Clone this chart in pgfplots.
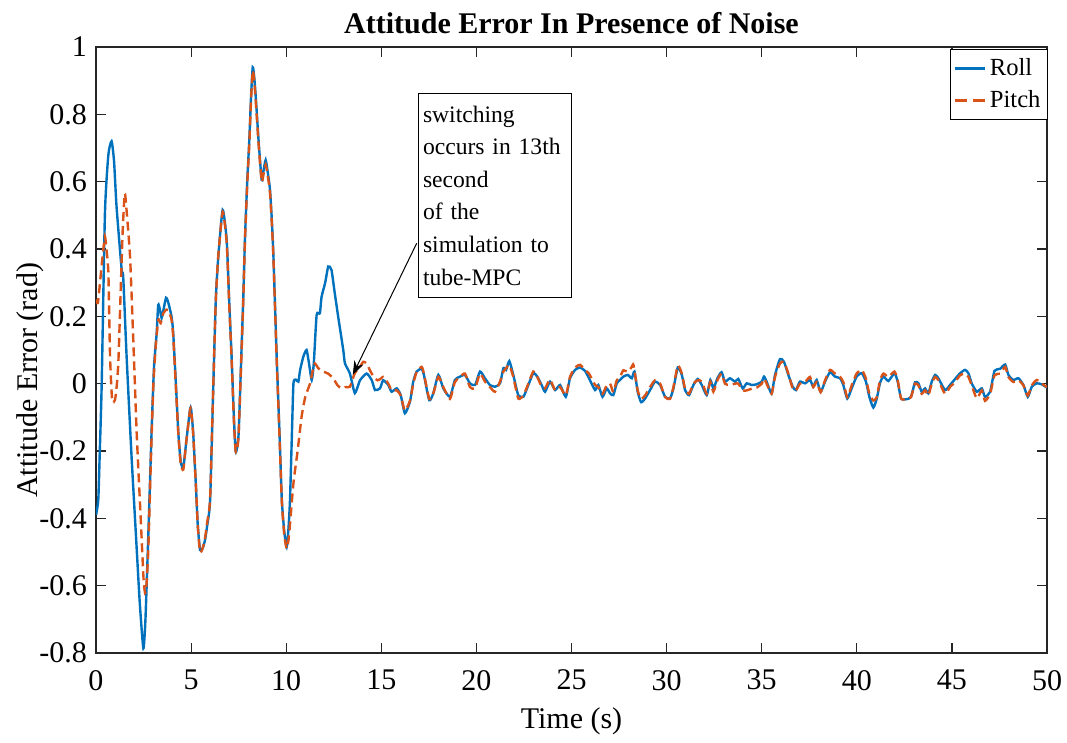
\documentclass[border=0pt]{standalone}
\usepackage{pgfplots}
\pgfplotsset{compat=1.18}
\usepackage{fontspec}
\setmainfont{Liberation Serif}
\usetikzlibrary{arrows.meta}
\definecolor{mblue}{rgb}{0,0.447,0.741}
\definecolor{morange}{rgb}{0.85,0.325,0.098}
\begin{document}
\begin{tikzpicture}
\begin{axis}[
  name=ax,
  scale only axis,
  width=475.5pt, height=303pt,
  xmin=0, xmax=50, ymin=-0.8, ymax=1,
  xtick={0,5,...,50},
  ytick={-0.8,-0.6,-0.4,-0.2,0,0.2,0.4,0.6,0.8,1},
  /pgf/number format/assume math mode=true,
  tick label style={font=\fontsize{15}{18}\selectfont},
  xticklabel style={yshift=-5pt},
  yticklabel style={xshift=-1pt},
  tick align=inside,
  major tick length=5pt,
  axis line style={black!85, line width=0.8pt},
  every tick/.style={black!85, line width=0.6pt},
  title={\textbf{Attitude Error In Presence of Noise}},
  title style={font=\fontsize{15}{18}\selectfont, at={(axis description cs:0.5,1)}, anchor=base, yshift=0.5pt},
  xlabel={Time (s)},
  xlabel style={font=\fontsize{15}{18}\selectfont, at={(axis description cs:0.5,0)}, anchor=base, yshift=-37.5pt},
  ylabel={Attitude Error (rad)},
  ylabel style={font=\fontsize{15}{18}\selectfont, at={(axis description cs:-0.0694,0.45)}, anchor=center},
  legend style={at={(rel axis cs:1,1)}, anchor=north east, xshift=0.5pt, yshift=-1pt,
    font=\fontsize{12.3}{15}\selectfont, draw=black, line width=0.5pt, inner xsep=1.5pt, inner ysep=2.5pt,
    /tikz/every even column/.append style={column sep=0.5pt}, row sep=2pt},
  legend cell align=left,
  legend image code/.code={\draw[#1] (0pt,0pt) -- (15pt,0pt);},
]
\addplot[mblue, line width=1.2pt, smooth, tension=0.35] coordinates {
(0,-0.39) (0.12,-0.345) (0.2,-0.2) (0.30,0.0) (0.47,0.506) (0.65,0.68) (0.82,0.72) (0.95,0.66) (1.08,0.526) (1.35,0.338) (1.43,0.318) (1.61,0.08) (1.87,-0.217) (2.1,-0.45) (2.3,-0.65) (2.49,-0.786) (2.6,-0.7) (2.75,-0.45) (2.92,-0.147) (3.05,0.05) (3.19,0.15) (3.27,0.234) (3.36,0.22) (3.45,0.195) (3.55,0.22) (3.68,0.255) (3.78,0.245) (3.97,0.2) (4.06,0.15) (4.2,0.0) (4.33,-0.147) (4.45,-0.23) (4.59,-0.25) (4.75,-0.17) (4.94,-0.078) (5.0,-0.075) (5.11,-0.147) (5.25,-0.3) (5.35,-0.42) (5.47,-0.494) (5.6,-0.49) (5.73,-0.465) (5.85,-0.42) (6.0,-0.345) (6.17,0.0) (6.3,0.25) (6.43,0.377) (6.66,0.516) (6.87,0.427) (7.0,0.25) (7.13,0.08) (7.25,-0.1) (7.34,-0.2) (7.42,-0.19) (7.5,-0.147) (7.62,0.05) (7.74,0.249) (7.83,0.427) (7.95,0.6) (8.06,0.724) (8.15,0.85) (8.24,0.94) (8.32,0.91) (8.41,0.843) (8.55,0.72) (8.71,0.605) (8.8,0.63) (8.92,0.664) (9.05,0.62) (9.15,0.575) (9.25,0.48) (9.33,0.377) (9.5,0.08) (9.65,-0.15) (9.77,-0.345) (9.9,-0.44) (10.03,-0.484) (10.12,-0.43) (10.2,-0.345) (10.3,-0.15) (10.38,0.0) (10.5,0.012) (10.64,0.006) (10.73,0.04) (10.9,0.08) (11.07,0.1) (11.2,0.06) (11.34,0.011) (11.45,0.06) (11.6,0.204) (11.77,0.209) (11.86,0.258) (12.05,0.3) (12.21,0.348) (12.38,0.338) (12.55,0.27) (12.73,0.2) (13.0,0.1) (13.09,0.06) (13.35,0.03) (13.61,-0.028) (13.88,0.01) (14.23,0.03) (14.5,0.01) (14.67,-0.019) (14.93,-0.014)
(15.1,0.01) (15.37,-0.004) (15.54,-0.024) (15.81,-0.014) (16.02,-0.034) (16.24,-0.088) (16.51,-0.053) (16.68,0.006) (16.86,0.036) (17.12,0.044) (17.24,0.026) (17.52,-0.049) (17.73,-0.029) (18.0,0.026) (18.26,-0.014) (18.61,-0.039) (18.87,0.011) (19.14,0.021) (19.4,0.026) (19.66,0.001) (19.93,-0.004) (20.19,0.036) (20.45,0.016) (20.71,-0.004) (20.98,-0.009) (21.24,0.001) (21.42,0.046) (21.56,0.041) (21.73,0.067) (21.94,0.026) (22.2,-0.034) (22.47,-0.039) (22.73,-0.004) (22.99,0.031) (23.2,0.021) (23.43,-0.004) (23.61,-0.024) (23.87,0.006) (24.14,-0.019) (24.4,-0.004) (24.7,-0.039) (24.92,0.016) (25.19,0.041) (25.45,0.048) (25.71,0.038) (25.92,0.016) (26.24,-0.019) (26.41,-0.004) (26.63,-0.039) (26.85,-0.014) (27.03,-0.029) (27.2,-0.034) (27.38,0.001) (27.55,0.011) (27.73,0.021) (27.96,0.026) (28.17,0.016) (28.31,0.036) (28.48,-0.024) (28.66,-0.055) (28.87,-0.044) (29.13,-0.019) (29.39,0.006) (29.66,-0.004) (29.92,-0.039) (30.18,-0.044) (30.36,-0.014) (30.59,0.048) (30.8,0.026) (30.97,-0.019) (31.18,-0.034) (31.41,-0.004) (31.64,0.014) (31.85,-0.004) (32.11,-0.034) (32.3,0.011) (32.46,-0.014) (32.67,0.016) (32.89,0.034) (33.07,0.006) (33.33,0.016) (33.6,0.006) (33.77,0.014) (34.0,-0.014) (34.21,0.001) (34.47,-0.004) (34.73,-0.002) (35.0,0.006) (35.12,0.021) (35.26,0.006) (35.52,-0.029) (35.7,0.026) (35.96,0.073) (36.17,0.065) (36.4,0.026) (36.63,-0.009) (36.8,-0.019) (37.01,0.006) (37.28,0.001) (37.54,0.011) (37.71,-0.009) (37.89,0.011) (38.1,-0.024) (38.33,0.006) (38.59,0.034) (38.85,0.021) (39.12,0.016) (39.29,-0.004) (39.5,-0.044) (39.73,-0.014) (39.99,0.021) (40.26,0.031) (40.48,0.006) (40.66,-0.039) (40.87,-0.071) (41.05,-0.044) (41.22,0.002) (41.4,0.021) (41.66,0.008) (41.98,0.031) (42.15,0.006) (42.33,-0.044) (42.63,-0.046) (42.85,-0.039) (43.06,0.004) (43.24,0.001) (43.41,-0.024) (43.59,-0.014) (43.76,-0.029) (43.94,0.006) (44.12,0.026) (44.29,0.016) (44.64,-0.019) (44.9,-0.004) (45.17,0.014) (45.43,0.031) (45.69,0.041) (45.87,0.031) (46.04,0.001) (46.31,-0.024) (46.57,-0.014) (46.74,-0.039) (47.01,-0.024) (47.24,0.038) (47.53,0.044) (47.8,0.057) (47.97,0.026) (48.23,0.011) (48.5,0.016) (48.76,-0.004) (48.99,-0.039) (49.2,-0.009) (49.46,0.001) (49.72,-0.002) (50.0,-0.012)
};
\addlegendentry{Roll}
\addplot[morange, line width=1.2pt, dash pattern=on 4.5pt off 2.5pt, smooth, tension=0.35, legend image post style={dash pattern=on 6pt off 3pt}] coordinates {
(0,0.25) (0.1,0.24) (0.21,0.3) (0.35,0.38) (0.47,0.437) (0.55,0.4) (0.65,0.33) (0.74,0.08) (0.85,-0.05) (1.0,-0.048) (1.1,0.0) (1.18,0.07) (1.3,0.28) (1.4,0.45) (1.51,0.565) (1.6,0.52) (1.79,0.377) (1.96,0.13) (2.14,-0.147) (2.35,-0.4) (2.5,-0.58) (2.58,-0.622) (2.65,-0.6) (2.75,-0.494) (2.9,-0.2) (3.02,0.0) (3.15,0.12) (3.28,0.19) (3.4,0.18) (3.54,0.209) (3.7,0.22) (3.8,0.219) (3.97,0.19) (4.06,0.14) (4.2,-0.01) (4.33,-0.15) (4.45,-0.235) (4.59,-0.255) (4.75,-0.17) (4.94,-0.08) (5.0,-0.078) (5.11,-0.15) (5.25,-0.3) (5.35,-0.42) (5.47,-0.5) (5.6,-0.49) (5.73,-0.46) (5.85,-0.41) (6.0,-0.34) (6.17,0.0) (6.3,0.25) (6.43,0.38) (6.66,0.51) (6.87,0.42) (7.0,0.24) (7.13,0.07) (7.25,-0.11) (7.34,-0.2) (7.42,-0.195) (7.5,-0.15) (7.62,0.04) (7.74,0.24) (7.83,0.42) (7.95,0.59) (8.06,0.71) (8.15,0.84) (8.24,0.93) (8.32,0.9) (8.41,0.83) (8.55,0.71) (8.71,0.6) (8.8,0.62) (8.92,0.65) (9.05,0.61) (9.15,0.565) (9.25,0.47) (9.33,0.37) (9.5,0.07) (9.65,-0.16) (9.77,-0.35) (9.9,-0.45) (10.03,-0.49) (10.15,-0.45) (10.38,-0.296) (10.6,-0.2) (10.81,-0.098) (11.0,-0.04) (11.25,0.0) (11.4,0.04) (11.51,0.06) (11.7,0.045) (11.95,0.036) (12.2,0.03) (12.47,0.016) (12.7,-0.005) (12.91,-0.014) (13.1,-0.01) (13.35,-0.009) (13.6,0.03) (13.88,0.05) (14.05,0.065) (14.23,0.06) (14.4,0.04) (14.6,0.02) (14.8,0.01) (15.0,0.016)
(15.1,0.02) (15.37,0.0) (15.54,-0.02) (15.81,-0.02) (16.02,-0.035) (16.24,-0.08) (16.51,-0.05) (16.68,0.0) (16.86,0.035) (17.12,0.05) (17.24,0.03) (17.52,-0.045) (17.73,-0.03) (18.0,0.02) (18.26,-0.01) (18.61,-0.045) (18.87,0.005) (19.14,0.02) (19.4,0.03) (19.66,-0.01) (19.93,-0.014) (20.19,0.03) (20.45,0.006) (20.71,-0.01) (20.98,-0.024) (21.24,0.006) (21.42,0.036) (21.56,0.046) (21.73,0.055) (21.94,0.02) (22.2,-0.044) (22.47,-0.035) (22.73,0.0) (22.99,0.036) (23.2,0.02) (23.43,-0.009) (23.61,-0.014) (23.87,0.012) (24.14,-0.02) (24.4,-0.01) (24.7,-0.035) (24.92,0.02) (25.19,0.048) (25.45,0.056) (25.71,0.04) (25.92,0.03) (26.24,-0.004) (26.41,-0.01) (26.63,-0.03) (26.85,-0.005) (27.03,0.0) (27.2,-0.025) (27.38,0.01) (27.55,0.02) (27.73,0.04) (27.96,0.035) (28.17,0.05) (28.26,0.055) (28.48,-0.02) (28.66,-0.045) (28.87,-0.035) (29.13,-0.01) (29.39,0.01) (29.66,0.0) (29.92,-0.04) (30.18,-0.045) (30.36,-0.01) (30.59,0.054) (30.8,0.03) (30.97,-0.015) (31.18,-0.03) (31.41,0.0) (31.64,0.01) (31.85,0.006) (32.11,-0.03) (32.3,0.005) (32.46,-0.024) (32.67,0.01) (32.89,0.03) (33.07,0.0) (33.33,-0.004) (33.6,0.0) (33.77,0.0) (34.0,-0.02) (34.21,-0.02) (34.47,-0.015) (34.73,-0.012) (35.0,0.0) (35.12,0.015) (35.26,0.0) (35.52,-0.03) (35.7,0.02) (35.96,0.06) (36.17,0.065) (36.4,0.03) (36.63,-0.015) (36.8,-0.02) (37.01,0.0) (37.28,0.005) (37.54,0.02) (37.71,-0.01) (37.89,0.005) (38.1,-0.025) (38.33,0.01) (38.59,0.041) (38.85,0.03) (39.12,0.02) (39.29,0.005) (39.5,-0.04) (39.73,-0.005) (39.99,0.03) (40.26,0.041) (40.48,0.015) (40.66,-0.03) (40.87,-0.05) (41.05,-0.04) (41.22,0.01) (41.4,0.03) (41.66,0.02) (41.98,0.036) (42.15,0.01) (42.33,-0.044) (42.63,-0.046) (42.85,-0.04) (43.06,0.0) (43.24,-0.005) (43.41,-0.03) (43.59,-0.02) (43.76,-0.035) (43.94,0.0) (44.12,0.02) (44.29,0.01) (44.64,-0.03) (44.9,-0.01) (45.17,0.005) (45.43,0.025) (45.69,0.03) (45.87,0.02) (46.04,-0.005) (46.31,-0.044) (46.57,-0.02) (46.74,-0.051) (47.01,-0.03) (47.24,0.025) (47.53,0.03) (47.8,0.05) (47.97,0.02) (48.23,0.005) (48.5,0.01) (48.76,-0.005) (48.99,-0.035) (49.2,-0.005) (49.46,0.011) (49.72,0.0) (50.0,-0.01)
};
\addlegendentry{Pitch}
\draw[black, line width=0.5pt, -{Stealth[length=7pt,width=5pt]}] (axis cs:16.86,0.417) -- (axis cs:13.5,0.026);
\node[draw=black, line width=0.5pt, fill=white, anchor=north west, text width=72pt, inner xsep=2.25pt, minimum height=102pt, align=left, font=\fontsize{11.8}{16.3}\selectfont] at (axis cs:16.93,0.863) {switching\\occurs in 13th\\second\\of the\\simulation to\\tube-MPC};
\end{axis}
\pgfresetboundingbox
\path[use as bounding box] ([xshift=-48pt,yshift=-44.5pt]ax.south west) rectangle ([xshift=10pt,yshift=23.5pt]ax.north east);
\end{tikzpicture}
\end{document}
